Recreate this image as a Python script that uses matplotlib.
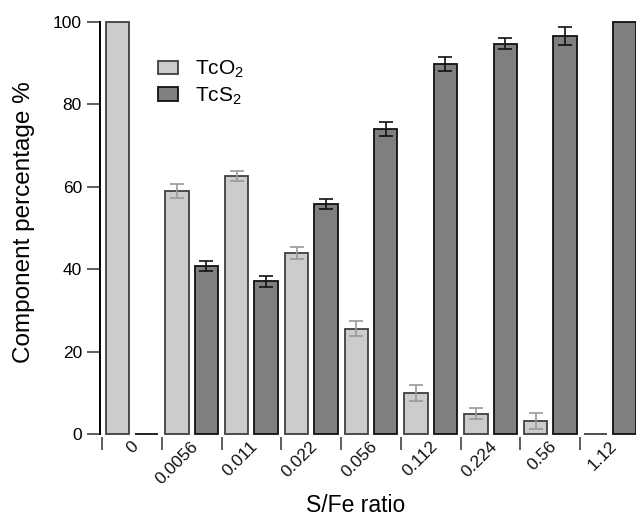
import numpy as np
import matplotlib.pyplot as plt
import matplotlib.transforms as mtransforms

plt.rcParams['font.family'] = ['Liberation Sans', 'DejaVu Sans']
plt.rcParams['mathtext.fontset'] = 'custom'
plt.rcParams['mathtext.rm'] = 'Liberation Sans'
plt.rcParams['mathtext.default'] = 'regular'

# S/Fe 比例与两种组分的百分比
ratios = ['0', '0.0056', '0.011', '0.022', '0.056', '0.112', '0.224', '0.56', '1.12']
tco2 = [100, 59.0, 62.7, 43.9, 25.6, 9.9, 4.9, 3.2, 0]
tco2_err = [0, 1.6, 1.2, 1.5, 1.8, 2.0, 1.3, 2.0, 0]
tcs2 = [0, 40.8, 37.1, 55.8, 74.1, 89.8, 94.7, 96.6, 100]
tcs2_err = [0, 1.3, 1.3, 1.3, 1.7, 1.8, 1.35, 2.1, 0]

x = np.arange(len(ratios))
w = 0.39
off = 0.245

fig = plt.figure(figsize=(6.36, 5.18), dpi=100)
ax = fig.add_axes([100 / 636, 84 / 518, 540 / 636, 412 / 518])

ax.bar(x - off, tco2, w, color='#cccccc', edgecolor='#404040', linewidth=1.3,
       label='TcO$_2$', clip_on=False, zorder=2)
ax.bar(x + off, tcs2, w, color='#7f7f7f', edgecolor='#111111', linewidth=1.3,
       label='TcS$_2$', clip_on=False, zorder=2)

# 误差线，数值为零的不画
m1 = np.array(tco2_err) > 0
m2 = np.array(tcs2_err) > 0
ax.errorbar((x - off)[m1], np.array(tco2)[m1], yerr=np.array(tco2_err)[m1], fmt='none',
            ecolor='#9a9a9a', elinewidth=1.2, capsize=5, capthick=1.2, zorder=3)
ax.errorbar((x + off)[m2], np.array(tcs2)[m2], yerr=np.array(tcs2_err)[m2], fmt='none',
            ecolor='#111111', elinewidth=1.2, capsize=5, capthick=1.2, zorder=3)

ax.set_xlim(-0.533, 8.5)
ax.set_ylim(0, 100)

for s in ['top', 'right', 'bottom']:
    ax.spines[s].set_visible(False)
ax.spines['left'].set_linewidth(1.4)
ax.spines['bottom'].set_position(('outward', 2))

ax.set_yticks([0, 20, 40, 60, 80, 100])
ax.tick_params(axis='y', length=9.4, width=1.1, color='#333333', labelsize=12.5, pad=3.6)

# 组间分隔刻度
ax.set_xticks(np.arange(len(ratios) + 1) - 0.5)
ax.set_xticklabels([])
ax.tick_params(axis='x', length=9, width=1.1, color='#333333')

# 倾斜的类别标签
trans = mtransforms.offset_copy(ax.get_xaxis_transform(), fig=fig, x=4, y=-10, units='dots')
for xi, lab in zip(x, ratios):
    ax.text(xi, 0, lab, transform=trans, rotation=45, rotation_mode='anchor',
            ha='right', va='center', fontsize=12.5, color='#111111')

fig.text(24 / 636, 1 - 222 / 518, 'Component percentage %', rotation=90,
         ha='center', va='center', fontsize=17.5)
fig.text(356 / 636, 1 - 505 / 518, 'S/Fe ratio', ha='center', va='center', fontsize=16.5)

ax.legend(loc='upper left', bbox_to_anchor=(158 / 636, 1 - 59 / 518),
          bbox_transform=fig.transFigure, frameon=False, fontsize=15,
          handlelength=0.96, handleheight=0.62, handletextpad=0.8,
          labelspacing=0.25, borderpad=0, borderaxespad=0)

fig.savefig('out.png', dpi=100)
